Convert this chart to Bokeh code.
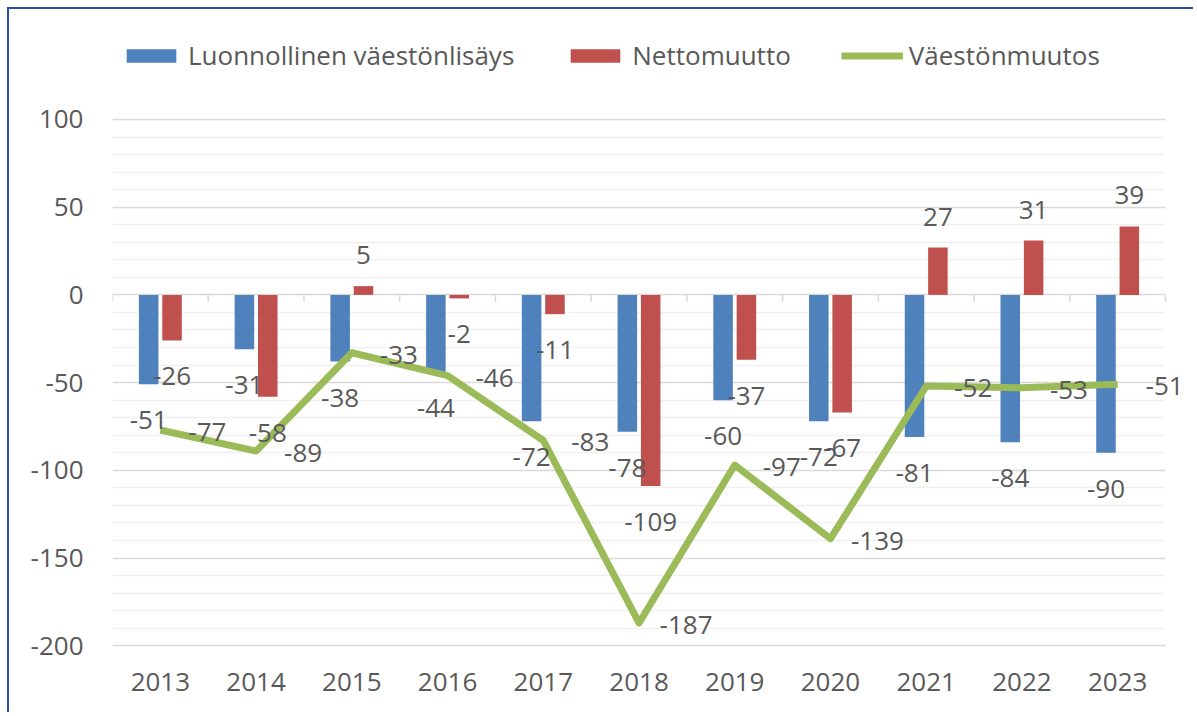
import numpy as np
from bokeh.plotting import figure
from bokeh.models import (Range1d, FixedTicker, Legend, LegendItem,
                          ColumnDataSource, NumeralTickFormatter)
from bokeh.core.properties import value
from bokeh.embed import file_html
from bokeh.resources import INLINE

years = ["2013", "2014", "2015", "2016", "2017", "2018", "2019", "2020", "2021", "2022", "2023"]
luonnollinen = [-51, -31, -38, -44, -72, -78, -60, -72, -81, -84, -90]
nettomuutto = [-26, -58, 5, -2, -11, -109, -37, -67, 27, 31, 39]
vaestonmuutos = [-77, -89, -33, -46, -83, -187, -97, -139, -52, -53, -51]
y_major = [-200, -150, -100, -50, 0, 50, 100]
y_minor = [v for v in range(-190, 100, 10) if v % 50 != 0]

BLUE = "#4F81BD"
RED = "#C0504D"
GREEN = "#9BBB59"
TXT = "#595959"
FONT = "Open Sans"
FS = "26px"

xs = np.arange(len(years), dtype=float)
n = len(years)

X_END = n - 0.5 + 0.313
Y_TOP = 162.68
Y_BOT = -201

p = figure(width=1186, height=705, output_backend="svg", toolbar_location=None,
           x_range=Range1d(-0.5, X_END), y_range=Range1d(Y_BOT, Y_TOP),
           min_border_left=103, min_border_right=0, min_border_top=0, min_border_bottom=67)
p.styles = {"border-left": "2px solid #2B4DA8", "border-top": "2px solid #2B4DA8",
            "margin-left": "7px", "margin-top": "7px"}
p.outline_line_color = None
p.background_fill_color = "white"
p.border_fill_color = "white"

# axes
p.xaxis.ticker = FixedTicker(ticks=list(xs))
p.xaxis.major_label_overrides = {int(i): y for i, y in enumerate(years)}
p.xaxis.axis_line_color = None
p.xaxis.major_tick_line_color = None
p.xaxis.minor_tick_line_color = None
p.xaxis.major_label_standoff = 19
p.yaxis.ticker = FixedTicker(ticks=y_major, minor_ticks=y_minor)
p.yaxis.formatter = NumeralTickFormatter(format="0")
p.yaxis.axis_line_color = None
p.yaxis.major_tick_line_color = None
p.yaxis.minor_tick_line_color = None
p.yaxis.major_label_standoff = 23
for ax in (p.xaxis, p.yaxis):
    ax.major_label_text_font = FONT
    ax.major_label_text_font_size = FS
    ax.major_label_text_color = TXT

p.xgrid.grid_line_color = None
p.ygrid.grid_line_color = "#D9D9D9"
p.ygrid.grid_line_width = 1.5
p.ygrid.minor_grid_line_color = "#F0F0F0"
p.ygrid.minor_grid_line_width = 1.5

# white mask: grid ends at the last category boundary, labels may overhang
p.quad(left=[n - 0.5], right=[X_END], bottom=[Y_BOT], top=[Y_TOP],
       fill_color="white", line_color=None)

# category boundary tick marks on the zero line
bounds = np.arange(n + 1) - 0.5
p.segment(x0=bounds, y0=np.zeros(len(bounds)), x1=bounds, y1=np.full(len(bounds), -4.0),
          line_color="#D9D9D9", line_width=1.5)

bw = 0.204
off = 0.122
r_blue = p.vbar(x=xs - off, top=luonnollinen, bottom=0, width=bw, fill_color=BLUE, line_color=None)
r_red = p.vbar(x=xs + off, top=nettomuutto, bottom=0, width=bw, fill_color=RED, line_color=None)
r_line = p.line(x=xs, y=vaestonmuutos, line_color=GREEN, line_width=7, line_join="round")

def bar_labels(xpos, vals):
    vals = np.array(vals)
    src = ColumnDataSource(dict(x=xpos, y=vals, t=[str(v) for v in vals],
                                yo=np.where(vals < 0, 36, -31)))
    p.text(x="x", y="y", text="t", y_offset="yo", source=src, text_align="center",
           text_baseline="middle", text_font=value(FONT), text_font_size=FS, text_color=TXT)

bar_labels(xs - off, luonnollinen)
bar_labels(xs + off, nettomuutto)
p.text(x=xs, y=vaestonmuutos, text=[str(v) for v in vaestonmuutos], x_offset=47, y_offset=2,
       text_align="center", text_baseline="middle", text_font=value(FONT), text_font_size=FS,
       text_color=TXT)

legend = Legend(items=[LegendItem(label="Luonnollinen väestönlisäys", renderers=[r_blue]),
                       LegendItem(label="Nettomuutto", renderers=[r_red]),
                       LegendItem(label="Väestönmuutos", renderers=[r_line])],
                orientation="horizontal", location=(8, 574), padding=0, margin=0,
                spacing=50, glyph_width=62, glyph_height=17, label_standoff=6,
                border_line_color=None, background_fill_alpha=0,
                label_text_font=FONT, label_text_font_size=FS, label_text_color=TXT)
p.add_layout(legend, "center")

open("out.html", "w").write(file_html(p, INLINE))
